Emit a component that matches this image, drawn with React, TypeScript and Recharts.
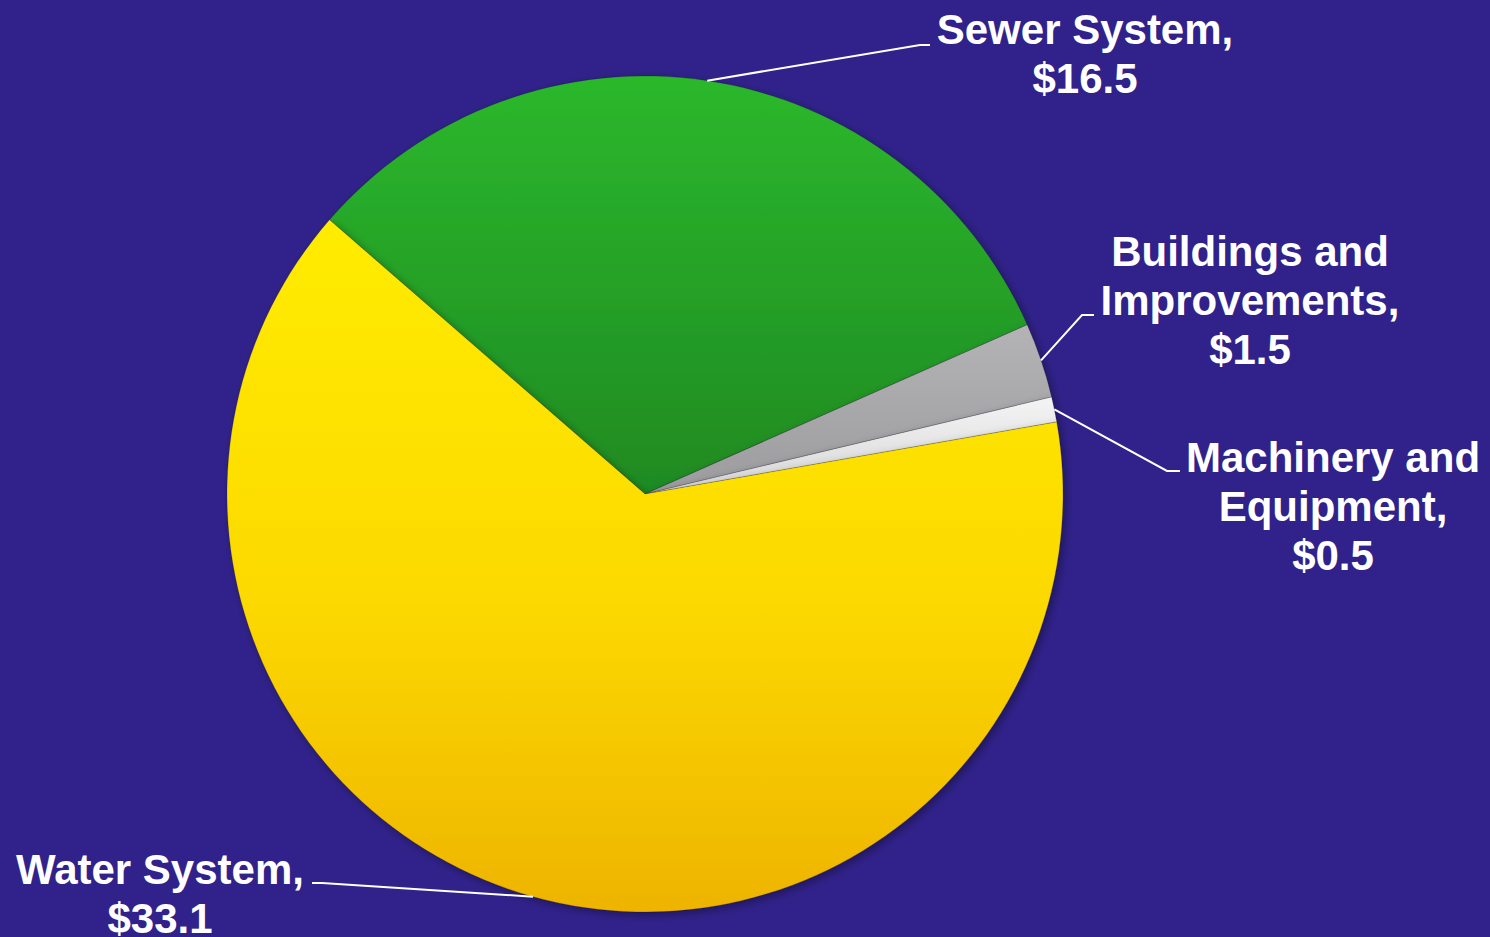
import { PieChart, Pie, Cell } from "recharts";

const categories = ["Sewer System", "Buildings and Improvements", "Machinery and Equipment", "Water System"];
const values = [16.5, 1.5, 0.5, 33.1];
const labelText = [
  ["Sewer System,", "$16.5"],
  ["Buildings and", "Improvements,", "$1.5"],
  ["Machinery and", "Equipment,", "$0.5"],
  ["Water System,", "$33.1"],
];

const data = categories.map((name, i) => ({ name, value: values[i] }));

const BG = "#30228a";
const fills = ["url(#gGreen)", "url(#gGray)", "url(#gWhite)", "url(#gYellow)"];

// where each label block sits, and where its leader line meets it
const labelPos = [
  { x: 1085, y: 44, elbow: [920, 45], end: [930, 45] },
  { x: 1250, y: 266, elbow: [1082, 315], end: [1094, 315] },
  { x: 1333, y: 472, elbow: [1167, 471], end: [1180, 471] },
  { x: 160, y: 884, elbow: [322, 883], end: [312, 883] },
];

const RAD = Math.PI / 180;

function renderLabel(props: any) {
  const { cx, cy, midAngle, outerRadius, index } = props;
  const p = labelPos[index];
  const sx = cx + outerRadius * Math.cos(-midAngle * RAD);
  const sy = cy + outerRadius * Math.sin(-midAngle * RAD);
  return (
    <g key={`lbl-${index}`}>
      <polyline
        points={`${sx},${sy} ${p.elbow[0]},${p.elbow[1]} ${p.end[0]},${p.end[1]}`}
        fill="none"
        stroke="#ffffff"
        strokeWidth={2}
      />
      <text
        x={p.x}
        y={p.y}
        textAnchor="middle"
        fill="#ffffff"
        fontSize={42}
        fontWeight="bold"
        fontFamily="'Liberation Sans', Arial, sans-serif"
      >
        {labelText[index].map((t, j) => (
          <tspan key={j} x={p.x} dy={j === 0 ? 0 : 49}>
            {t}
          </tspan>
        ))}
      </text>
    </g>
  );
}

export default function App() {
  return (
    <div style={{ position: "fixed", left: 0, top: 0, width: 1490, height: 937, background: BG }}>
      <PieChart width={1490} height={937} margin={{ top: 0, right: 0, bottom: 0, left: 0 }}>
        <defs>
          <linearGradient id="gYellow" x1="0" y1="0" x2="0" y2="1">
            <stop offset="0%" stopColor="#ffec00" />
            <stop offset="55%" stopColor="#fcd900" />
            <stop offset="100%" stopColor="#eeb400" />
          </linearGradient>
          <linearGradient id="gGreen" x1="0" y1="0" x2="0" y2="1">
            <stop offset="0%" stopColor="#2cb82c" />
            <stop offset="100%" stopColor="#1f8a22" />
          </linearGradient>
          <linearGradient id="gGray" x1="0" y1="0" x2="0" y2="1">
            <stop offset="0%" stopColor="#b4b4b6" />
            <stop offset="100%" stopColor="#9c9c9f" />
          </linearGradient>
          <linearGradient id="gWhite" x1="0" y1="0" x2="0" y2="1">
            <stop offset="0%" stopColor="#f4f4f4" />
            <stop offset="100%" stopColor="#d6d6d8" />
          </linearGradient>
          <filter id="shade" x="-10%" y="-10%" width="120%" height="120%">
            <feDropShadow dx="3" dy="3" stdDeviation="4" floodColor="#000" floodOpacity="0.35" />
          </filter>
        </defs>
        <Pie
          data={data}
          dataKey="value"
          nameKey="name"
          cx={645}
          cy={494}
          outerRadius={418}
          startAngle={139}
          endAngle={-221}
          stroke="rgba(0,0,0,0.18)"
          strokeWidth={1}
          label={renderLabel}
          labelLine={false}
          isAnimationActive={false}
          style={{ filter: "url(#shade)" }}
        >
          {data.map((d, i) => (
            <Cell key={d.name} fill={fills[i]} />
          ))}
        </Pie>
      </PieChart>
    </div>
  );
}
